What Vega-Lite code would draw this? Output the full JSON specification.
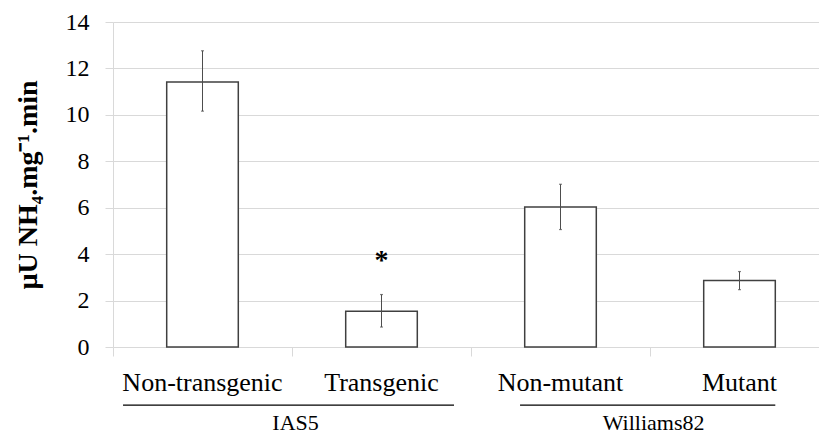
{
  "$schema": "https://vega.github.io/schema/vega-lite/v6.json",
  "width": 706,
  "height": 325,
  "autosize": {"type": "none"},
  "padding": {"left": 113, "top": 22, "right": 0, "bottom": 91},
  "background": "white",
  "config": {
    "view": {"stroke": null},
    "font": "Times New Roman, Liberation Serif, serif",
    "axis": {"labelFont": "Times New Roman, Liberation Serif, serif", "titleFont": "Times New Roman, Liberation Serif, serif"},
    "text": {"font": "Times New Roman, Liberation Serif, serif"}
  },
  "datasets": {
    "bars": [
      {"genotype": "Non-transgenic", "activity": 11.42, "lo": 10.16, "hi": 12.76, "sig": ""},
      {"genotype": "Transgenic", "activity": 1.54, "lo": 0.86, "hi": 2.26, "sig": "*"},
      {"genotype": "Non-mutant", "activity": 6.03, "lo": 5.06, "hi": 7.01, "sig": ""},
      {"genotype": "Mutant", "activity": 2.87, "lo": 2.47, "hi": 3.25, "sig": ""}
    ],
    "groups": [
      {"group": "IAS5", "first": "Non-transgenic", "last": "Transgenic"},
      {"group": "Williams82", "first": "Non-mutant", "last": "Mutant"}
    ]
  },
  "layer": [
    {
      "data": {"name": "bars"},
      "mark": {"type": "bar", "fill": "white", "stroke": "#404040", "strokeWidth": 1.5, "width": {"band": 0.4}},
      "encoding": {
        "x": {
          "field": "genotype", "type": "nominal", "title": null,
          "scale": {"domain": ["Non-transgenic", "Transgenic", "Non-mutant", "Mutant"], "range": [0, 716], "paddingInner": 0, "paddingOuter": 0},
          "axis": {
            "bandPosition": 0, "labelAngle": 0, "domain": false, "grid": false,
            "ticks": true, "tickSize": 9, "tickColor": "#d9d9d9", "tickWidth": 1,
            "labelFontSize": 26, "labelColor": "black", "labelPadding": 13
          }
        },
        "y": {
          "field": "activity", "type": "quantitative",
          "scale": {"domain": [0, 14], "nice": false},
          "axis": {
            "values": [0, 2, 4, 6, 8, 10, 12, 14], "grid": true, "gridColor": "#d9d9d9", "gridWidth": 1,
            "domain": true, "domainColor": "#d9d9d9", "ticks": true, "tickSize": 8, "tickColor": "#d9d9d9",
            "labelFontSize": 24, "labelColor": "black", "labelPadding": 16,
            "title": "µU NH₄.mg⁻¹.min", "titleFontSize": 28, "titleFontWeight": "bold",
            "titleColor": "black", "titleX": -77, "titleY": 162.5, "titleAngle": 270, "titleAlign": "center", "titleBaseline": "alphabetic"
          }
        }
      }
    },
    {
      "data": {"name": "bars"},
      "mark": {"type": "rule", "stroke": "#4d4d4d", "strokeWidth": 1},
      "encoding": {
        "x": {"field": "genotype", "type": "nominal", "title": null},
        "y": {"field": "lo", "type": "quantitative"},
        "y2": {"field": "hi"}
      }
    },
    {
      "data": {"name": "bars"},
      "mark": {"type": "tick", "color": "#4d4d4d", "size": 3, "thickness": 1.2},
      "encoding": {
        "x": {"field": "genotype", "type": "nominal", "title": null},
        "y": {"field": "lo", "type": "quantitative"}
      }
    },
    {
      "data": {"name": "bars"},
      "mark": {"type": "tick", "color": "#4d4d4d", "size": 3, "thickness": 1.2},
      "encoding": {
        "x": {"field": "genotype", "type": "nominal", "title": null},
        "y": {"field": "hi", "type": "quantitative"}
      }
    },
    {
      "data": {"name": "bars"},
      "mark": {"type": "text", "fontSize": 28, "fontWeight": "bold", "color": "black", "baseline": "alphabetic", "dy": -26},
      "encoding": {
        "x": {"field": "genotype", "type": "nominal", "title": null},
        "y": {"field": "hi", "type": "quantitative"},
        "text": {"field": "sig"}
      }
    },
    {
      "data": {"name": "groups"},
      "transform": [{"filter": "datum.group === 'IAS5'"}],
      "mark": {"type": "rule", "stroke": "black", "strokeWidth": 1.3},
      "encoding": {
        "x": {"field": "first", "type": "nominal", "bandPosition": 0.056, "title": null},
        "x2": {"field": "last", "bandPosition": 0.905},
        "y": {"datum": -2.5, "type": "quantitative"}
      }
    },
    {
      "data": {"name": "groups"},
      "transform": [{"filter": "datum.group === 'Williams82'"}],
      "mark": {"type": "rule", "stroke": "black", "strokeWidth": 1.3},
      "encoding": {
        "x": {"field": "first", "type": "nominal", "bandPosition": 0.274, "title": null},
        "x2": {"field": "last", "bandPosition": 0.70},
        "y": {"datum": -2.5, "type": "quantitative"}
      }
    },
    {
      "data": {"name": "groups"},
      "mark": {"type": "text", "fontSize": 22, "color": "black", "baseline": "alphabetic", "align": "center"},
      "encoding": {
        "x": {"field": "last", "type": "nominal", "bandPosition": 0.02, "title": null},
        "y": {"datum": -3.58, "type": "quantitative"},
        "text": {"field": "group"}
      }
    }
  ]
}
